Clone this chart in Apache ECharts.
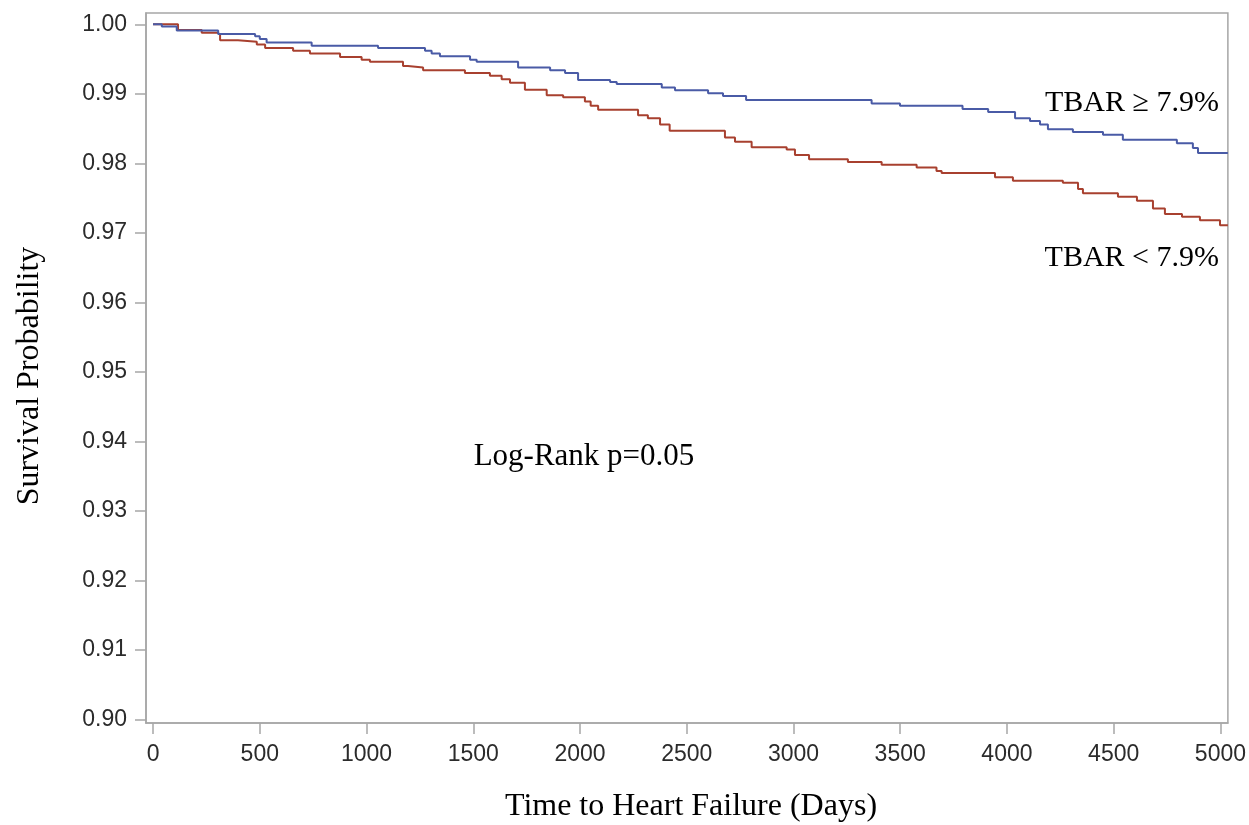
<!DOCTYPE html>
<html>
<head>
<meta charset="utf-8">
<script src="https://cdn.jsdelivr.net/npm/echarts@6/dist/echarts.min.js"></script>
<style>
html,body{margin:0;padding:0;background:#fff;}
#chart{width:1249px;height:825px;}
</style>
</head>
<body>
<div id="chart"></div>
<script>
// ---- data ----
const xTicks = [0, 500, 1000, 1500, 2000, 2500, 3000, 3500, 4000, 4500, 5000];
const yTicks = [0.90, 0.91, 0.92, 0.93, 0.94, 0.95, 0.96, 0.97, 0.98, 0.99, 1.00];

const highName = 'TBAR \u2265 7.9%';
const highTimes = [0, 41, 111, 305, 478, 500, 532, 743, 1054, 1274,
  1305, 1344, 1485, 1516, 1710, 1860, 1930, 1991, 2141, 2172,
  2383, 2445, 2600, 2670, 2778, 3366, 3499, 3792, 3912, 4038,
  4108, 4155, 4192, 4309, 4450, 4543, 4796, 4871, 4895, 5035];
const highSurv = [1.0, 0.9997, 0.9991, 0.9986, 0.9983, 0.9979, 0.9974, 0.9969, 0.9966, 0.9962,
  0.9958, 0.9954, 0.9949, 0.9946, 0.9938, 0.9934, 0.9930, 0.9920, 0.9917, 0.9914,
  0.9909, 0.9905, 0.9901, 0.9897, 0.9891, 0.9886, 0.9883, 0.9878, 0.9874, 0.9865,
  0.9861, 0.9856, 0.9849, 0.9845, 0.9841, 0.9834, 0.9829, 0.9822, 0.9815, 0.9815];

const lowName = 'TBAR < 7.9%';
const lowTimes = [0, 117, 228, 298, 314, 398, 486, 525, 656, 735,
  876, 977, 1016, 1171, 1194, 1265, 1461, 1578, 1633, 1672,
  1742, 1844, 1921, 2023, 2050, 2085, 2272, 2318, 2375, 2420,
  2679, 2726, 2804, 2968, 3007, 3073, 3255, 3413, 3577, 3670,
  3694, 3944, 4028, 4262, 4333, 4356, 4520, 4609, 4684, 4740,
  4820, 4904, 4998, 5035];
const lowSurv = [1.0, 0.9992, 0.9988, 0.9986, 0.9977, 0.9975, 0.9971, 0.9966, 0.9962, 0.9958,
  0.9953, 0.9949, 0.9946, 0.9940, 0.9938, 0.9934, 0.9930, 0.9926, 0.9921, 0.9916,
  0.9906, 0.9898, 0.9895, 0.9889, 0.9883, 0.9877, 0.9869, 0.9865, 0.9856, 0.9847,
  0.9837, 0.9831, 0.9823, 0.9820, 0.9812, 0.9806, 0.9802, 0.9798, 0.9794, 0.9789,
  0.9786, 0.9780, 0.9775, 0.9772, 0.9763, 0.9757, 0.9752, 0.9746, 0.9735, 0.9727,
  0.9723, 0.9718, 0.9711, 0.9711];

const xTitle = 'Time to Heart Failure (Days)';
const yTitle = 'Survival Probability';
const pText = 'Log-Rank p=0.05';

// ---- chart ----
const zip = (a, b) => a.map((v, i) => [v, b[i]]);
const chart = echarts.init(document.getElementById('chart'), null, {renderer: 'canvas'});
const axisGray = '#a6a6a6';
const labelColor = '#2b2b2b';
const serif = '"Liberation Serif", "Times New Roman", serif';
const sans = '"Liberation Sans", Arial, sans-serif';

chart.setOption({
  animation: false,
  backgroundColor: '#ffffff',
  grid: {left: 146, top: 13, right: 21, bottom: 102, show: true, borderColor: axisGray, borderWidth: 1.5, containLabel: false},
  xAxis: {
    type: 'value', min: -33, max: 5035,
    splitLine: {show: false},
    axisLine: {show: true, onZero: false, lineStyle: {color: axisGray, width: 1.5}},
    axisTick: {show: true, length: 11, customValues: xTicks, lineStyle: {color: axisGray, width: 1.5}},
    axisLabel: {show: true, customValues: xTicks, margin: 20, color: labelColor, fontSize: 23, fontFamily: sans,
      formatter: v => String(v)}
  },
  yAxis: {
    type: 'value', min: 0.89947, max: 1.00163,
    splitLine: {show: false},
    axisLine: {show: true, onZero: false, lineStyle: {color: axisGray, width: 1.5}},
    axisTick: {show: true, length: 11, customValues: yTicks, lineStyle: {color: axisGray, width: 1.5}},
    axisLabel: {show: true, customValues: yTicks, margin: 19, color: labelColor, fontSize: 23, fontFamily: sans,
      formatter: v => v.toFixed(2)}
  },
  series: [
    {name: highName, type: 'line', step: 'end', showSymbol: false, symbol: 'none',
     data: zip(highTimes, highSurv), lineStyle: {color: '#4a5ba6', width: 2}, z: 3},
    {name: lowName, type: 'line', step: 'end', showSymbol: false, symbol: 'none',
     data: zip(lowTimes, lowSurv), lineStyle: {color: '#a8402f', width: 2}, z: 2}
  ],
  graphic: [
    {type: 'text', position: [691, 807], style: {text: xTitle, font: '32px ' + serif, fill: '#000', textAlign: 'center', textVerticalAlign: 'middle'}},
    {type: 'text', rotation: Math.PI / 2, position: [30, 376], style: {text: yTitle, font: '32px ' + serif, fill: '#000', textAlign: 'center', textVerticalAlign: 'middle'}},
    {type: 'text', position: [1219, 103], style: {text: highName, font: '30px ' + serif, fill: '#000', textAlign: 'right', textVerticalAlign: 'middle'}},
    {type: 'text', position: [1219, 258], style: {text: lowName, font: '30px ' + serif, fill: '#000', textAlign: 'right', textVerticalAlign: 'middle'}},
    {type: 'text', position: [584, 457], style: {text: pText, font: '31px ' + serif, fill: '#000', textAlign: 'center', textVerticalAlign: 'middle'}}
  ]
});
</script>
</body>
</html>
